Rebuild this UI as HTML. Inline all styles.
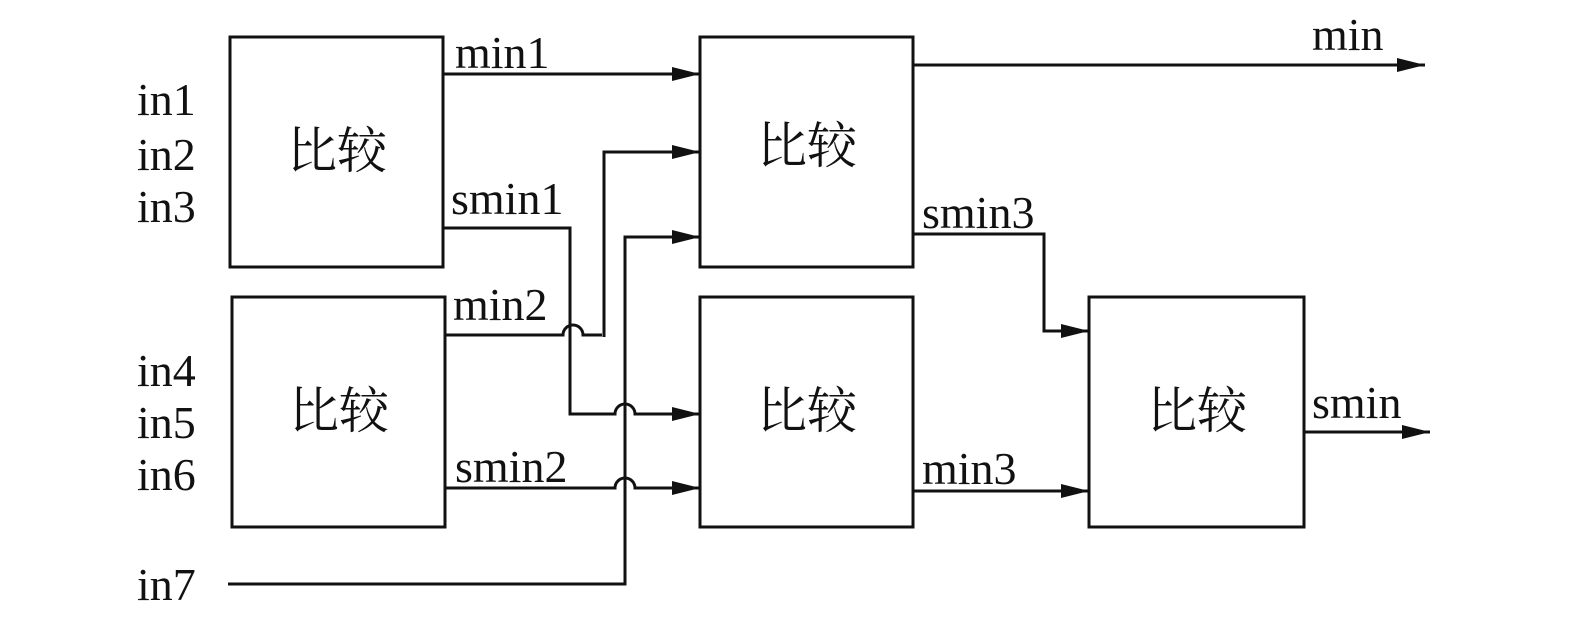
<!DOCTYPE html>
<html><head><meta charset="utf-8"><style>html,body{margin:0;padding:0;background:#fff}svg{display:block}</style></head><body>
<svg width="1575" height="628" viewBox="0 0 1575 628" xmlns="http://www.w3.org/2000/svg">
<defs><marker id="a" markerWidth="28" markerHeight="14" refX="28" refY="7" orient="auto" markerUnits="userSpaceOnUse"><path d="M0,0 L28,7 L0,14 z" fill="#111"/></marker></defs>
<g fill="none" stroke="#111" stroke-width="3">
<rect x="230" y="37" width="213" height="230"/>
<rect x="232" y="297" width="213" height="230"/>
<rect x="700" y="37" width="213" height="230"/>
<rect x="700" y="297" width="213" height="230"/>
<rect x="1089" y="297" width="215" height="230"/>
<path d="M443,74 H700" marker-end="url(#a)"/>
<path d="M913,65 H1425" marker-end="url(#a)"/>
<path d="M443,228 H570 V414 H615 a10,10 0 0 1 20,0 H700" marker-end="url(#a)"/>
<path d="M445,335 H563 a10,10 0 0 1 20,0 H602 M604,337 V152 H700" marker-end="url(#a)"/>
<path d="M445,488 H615 a10,10 0 0 1 20,0 H700" marker-end="url(#a)"/>
<path d="M228,584 H625 V237 H700" marker-end="url(#a)"/>
<path d="M913,234 H1044 V331 H1089" marker-end="url(#a)"/>
<path d="M913,491 H1089" marker-end="url(#a)"/>
<path d="M1304,432 H1430" marker-end="url(#a)"/>
</g>
<g font-family="'Liberation Serif',serif" font-size="46" fill="#111">
<text x="455" y="68">min1</text>
<text x="451" y="214">smin1</text>
<text x="453" y="320">min2</text>
<text x="455" y="482">smin2</text>
<text x="922" y="228">smin3</text>
<text x="922" y="484">min3</text>
<text x="1312" y="50">min</text>
<text x="1312" y="418">smin</text>
<text x="137" y="115">in1</text>
<text x="137" y="170">in2</text>
<text x="137" y="222">in3</text>
<text x="137" y="386">in4</text>
<text x="137" y="438">in5</text>
<text x="137" y="490">in6</text>
<text x="137" y="600">in7</text>
</g>
<g font-family="'Noto Serif CJK SC','Noto Sans CJK SC',serif" font-size="50" fill="#111" text-anchor="middle">
<text x="337" y="168">比较</text>
<text x="339" y="428">比较</text>
<text x="807" y="163">比较</text>
<text x="807" y="428">比较</text>
<text x="1197" y="428">比较</text>
</g>
</svg>
</body></html>
